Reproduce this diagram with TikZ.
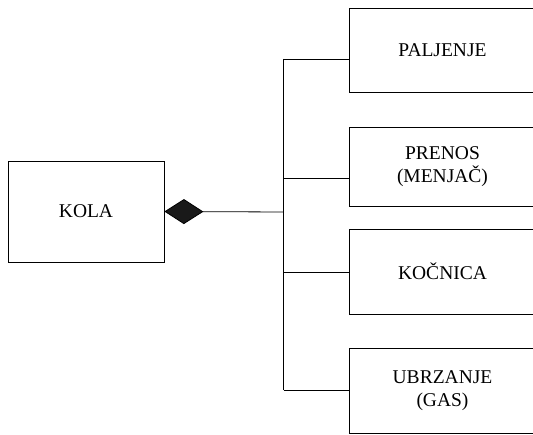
\documentclass[tikz,border=0pt]{standalone}
\usepackage{fontspec}
\setmainfont{Liberation Serif}
\usetikzlibrary{arrows.meta}
\begin{document}
\begin{tikzpicture}[x=1pt,y=-1pt,
  box/.style={draw=black, line width=0.8pt, minimum width=200pt, align=center,
    inner sep=0pt, font=\fontsize{19.5}{23.5}\selectfont},
  link/.style={draw=black, line width=0.8pt}]
  \useasboundingbox (0,0) rectangle (533,435);
  \clip (0,0) rectangle (533,435);

  % whole part
  \node[box, minimum width=156pt, minimum height=101pt] (kola) at (86,211.5) {KOLA};

  % component parts (their right sides run past the page edge)
  \node[box, minimum height=84pt] (paljenje) at (449,50) {};
  \node[box, minimum height=79pt] (prenos)   at (449,166.5) {};
  \node[box, minimum height=85pt] (kocnica)  at (449,271.5) {};
  \node[box, minimum height=85pt] (ubrzanje) at (449,390.5) {};

  % part labels
  \node[box, draw=none, minimum width=0pt] (lpaljenje) at (442.5,50) {PALJENJE};
  \node[box, draw=none, minimum width=0pt] (lprenos)   at (442.5,166.5) {PRENOS\\(MENJAČ)};
  \node[box, draw=none, minimum width=0pt] (lkocnica)  at (442.5,271.5) {KOČNICA};
  \node[box, draw=none, minimum width=0pt] (lubrzanje) at (442.5,390.5) {UBRZANJE\\(GAS)};

  % trunk of the composition tree
  \coordinate (t1) at (283.5,59);
  \coordinate (t2) at (283.5,178);
  \coordinate (t3) at (283.5,272);
  \coordinate (t4) at (283.5,390);
  \coordinate (tj) at (283.5,212);

  \draw[link] (t1) -- (t4);
  \draw[link] (t1) -- (t1 -| paljenje.west);
  \draw[link] (t2) -- (t2 -| prenos.west);
  \draw[link] (t3) -- (t3 -| kocnica.west);
  \draw[link] (t4) -- (t4 -| ubrzanje.west);

  % composition with filled diamond at the whole
  \draw[link, {Diamond[length=39pt, width=25pt, fill=black!90]}-] (kola.east) -- (tj);
\end{tikzpicture}
\end{document}
